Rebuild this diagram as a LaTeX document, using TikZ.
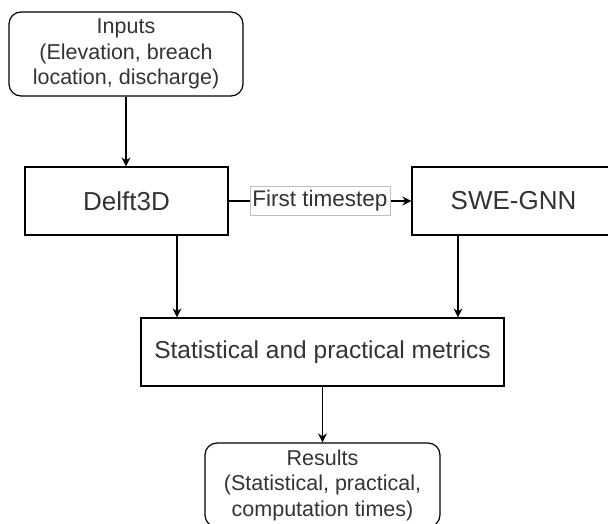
\documentclass[tikz,border=0pt]{standalone}
\usepackage{fontspec}
\setmainfont{Liberation Sans}
\usetikzlibrary{calc,arrows.meta,positioning}

\begin{document}
\begin{tikzpicture}[x=1pt, y=-1pt]
    \tikzstyle{box}=[draw, line width=1.2pt, text=black!80, minimum width=203pt, minimum height=68pt, inner sep=0pt, font=\fontsize{26}{30}\selectfont]
    \tikzstyle{io}=[box, rounded corners=12pt, align=center, font=\fontsize{21.5}{25.5}\selectfont]
    \tikzstyle{arr}=[-{Stealth[length=9pt,width=9pt]}, line width=1.2pt]
    \tikzstyle{tag}=[draw=black!25, fill=white, line width=0.6pt, text=black!80, inner sep=2.5pt, minimum height=29pt, font=\fontsize{22.5}{26}\selectfont]

    % Page frame
    \clip (0,0) rectangle (608,524);

    % Boxes
    \node[io, minimum width=234pt, minimum height=84pt] (inputs) at (126,54) {Inputs\\(Elevation, breach\\location, discharge)};
    \node[box] (delft) at (126.5,201) {Delft3D};
    \node[box] (swe) at (513.5,201) {SWE-GNN};
    \node[box, minimum width=363pt, font=\fontsize{24.5}{28}\selectfont] (metrics) at (322.5,352) {Statistical and practical metrics};
    \node[io, minimum width=235pt, minimum height=84pt] (results) at (322.5,485) {Results\\(Statistical, practical,\\computation times)};

    % Connectors
    \draw[arr] (inputs.south) -- (inputs.south |- delft.north);
    \draw[arr] (delft) -- node[tag] {First timestep} (swe);
    \draw[arr] ([xshift=50.5pt]delft.south) -- ([xshift=50.5pt]delft.south |- metrics.north);
    \draw[arr] ([xshift=-55.5pt]swe.south) -- ([xshift=-55.5pt]swe.south |- metrics.north);
    \draw[arr] (metrics.south) -- (results.north);
\end{tikzpicture}
\end{document}
